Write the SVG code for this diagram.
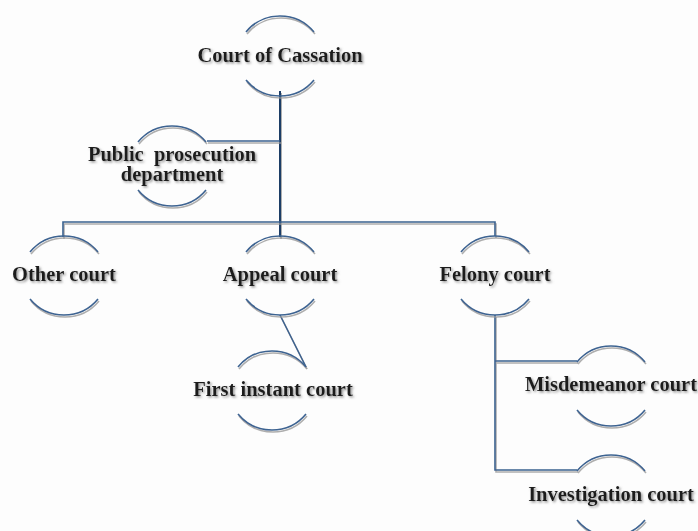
<svg xmlns="http://www.w3.org/2000/svg" width="698" height="531" viewBox="0 0 698 531">
<defs>
<filter id="sh" filterUnits="userSpaceOnUse" x="0" y="0" width="698" height="531">
<feDropShadow dx="1" dy="2" stdDeviation="0.7" flood-color="#9a9a9a" flood-opacity="0.8"/>
</filter>
<filter id="tsh" x="-10%" y="-30%" width="120%" height="160%">
<feDropShadow dx="1.5" dy="1.5" stdDeviation="0.8" flood-color="#8a8a8a" flood-opacity="0.9"/>
</filter>
</defs>
<style>
.arc{fill:none;stroke:#3d6391;stroke-width:1.6;filter:url(#sh)}
.ln{fill:none;stroke:#3a6290;stroke-width:1.6;filter:url(#sh)}
.main{stroke:#1f3e66;stroke-width:2}
.t{font-family:"Liberation Serif","DejaVu Serif",serif;font-size:20.5px;font-weight:bold;fill:#1e1e1e;text-anchor:middle;filter:url(#tsh)}
</style>
<rect width="698" height="531" fill="#fdfdfd"/>
<g id="connectors">
<path class="ln main" d="M280,91 V237"/>
<path class="ln" d="M63,237 V222 H495 V236"/>
<path class="ln" d="M207,141 H280"/>
<path class="ln" d="M280,315 L306,367"/>
<path class="ln" d="M495,315 V470 H577 M495,361 H577"/>
</g>
<g id="cassation">
<path class="arc" d="M246,32 A44,44 0 0 1 314,32 M246,80 A44,44 0 0 0 314,80"/>
<text class="t" x="280" y="62">Court of Cassation</text>
</g>
<g id="prosecution">
<path class="arc" d="M138,142 A44,44 0 0 1 206,142 M138,190 A44,44 0 0 0 206,190"/>
<text class="t" x="172" y="161" xml:space="preserve">Public  prosecution</text>
<text class="t" x="172" y="181">department</text>
</g>
<g id="other">
<path class="arc" d="M30,252 A44,44 0 0 1 98,252 M30,299 A44,44 0 0 0 98,299"/>
<text class="t" x="64" y="281">Other court</text>
</g>
<g id="appeal">
<path class="arc" d="M246,252 A44,44 0 0 1 314,252 M246,299 A44,44 0 0 0 314,299"/>
<text class="t" x="280" y="281">Appeal court</text>
</g>
<g id="felony">
<path class="arc" d="M461,252 A44,44 0 0 1 529,252 M461,299 A44,44 0 0 0 529,299"/>
<text class="t" x="495" y="281">Felony court</text>
</g>
<g id="first-instant">
<path class="arc" d="M238,367 A44,44 0 0 1 306,367 M238,414 A44,44 0 0 0 306,414"/>
<text class="t" x="273" y="396">First instant court</text>
</g>
<g id="misdemeanor">
<path class="arc" d="M577,362 A44,44 0 0 1 645,362 M577,410 A44,44 0 0 0 645,410"/>
<text class="t" x="611" y="391">Misdemeanor court</text>
</g>
<g id="investigation">
<path class="arc" d="M577,471 A44,44 0 0 1 645,471 M577,520 A44,44 0 0 0 645,520"/>
<text class="t" x="611" y="501">Investigation court</text>
</g>
</svg>
